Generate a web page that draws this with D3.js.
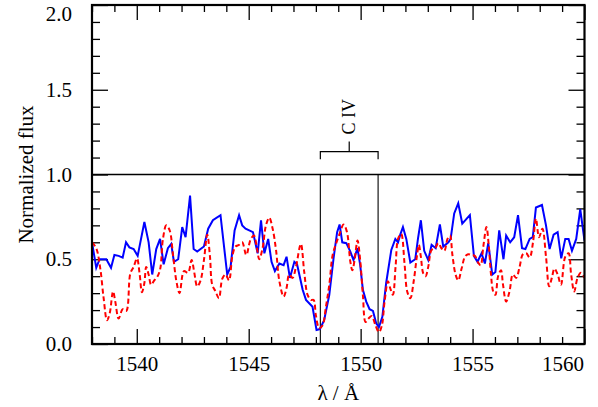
<!DOCTYPE html>
<html>
<head>
<meta charset="utf-8">
<script src="https://cdn.jsdelivr.net/npm/d3@7"></script>
</head>
<body style="margin:0; background:#fff">
<div id="chart"></div>
<script>
// spectrum 1 (solid blue)
var blueWave = [1538.00,1538.19,1538.34,1538.64,1538.85,1539.00,1539.19,1539.37,1539.52,1539.67,1539.86,1540.04,1540.34,1540.53,1540.69,1540.87,1541.04,1541.20,1541.39,1541.54,1541.66,1541.85,1542.03,1542.18,1542.38,1542.54,1542.70,1543.00,1543.19,1543.40,1543.74,1544.04,1544.19,1544.37,1544.57,1544.71,1544.86,1545.19,1545.40,1545.55,1545.70,1545.87,1546.02,1546.17,1546.37,1546.56,1546.69,1546.84,1547.04,1547.16,1547.41,1547.56,1547.85,1548.03,1548.18,1548.37,1548.60,1548.79,1548.95,1549.06,1549.18,1549.36,1549.54,1549.68,1549.86,1549.98,1550.10,1550.25,1550.40,1550.55,1550.70,1550.82,1550.97,1551.14,1551.37,1551.55,1551.67,1551.77,1551.89,1552.04,1552.22,1552.44,1552.56,1552.69,1552.84,1553.02,1553.17,1553.35,1553.54,1553.69,1553.92,1554.02,1554.18,1554.36,1554.54,1554.88,1555.06,1555.22,1555.40,1555.55,1555.70,1555.88,1556.02,1556.19,1556.38,1556.50,1556.68,1556.86,1557.03,1557.21,1557.36,1557.55,1557.69,1557.83,1558.10,1558.28,1558.44,1558.62,1558.80,1558.96,1559.14,1559.29,1559.44,1559.63,1559.81,1560.00];
var blueFlux = [0.60,0.45,0.50,0.50,0.45,0.525,0.52,0.51,0.60,0.57,0.56,0.52,0.72,0.60,0.41,0.56,0.62,0.47,0.565,0.59,0.485,0.50,0.69,0.63,0.875,0.56,0.545,0.575,0.68,0.73,0.76,0.41,0.455,0.67,0.76,0.70,0.68,0.66,0.535,0.73,0.535,0.62,0.485,0.43,0.475,0.465,0.515,0.39,0.485,0.47,0.32,0.26,0.22,0.083,0.088,0.14,0.29,0.505,0.66,0.705,0.60,0.595,0.545,0.495,0.565,0.465,0.32,0.25,0.205,0.195,0.12,0.10,0.16,0.36,0.555,0.62,0.60,0.645,0.69,0.62,0.48,0.50,0.62,0.73,0.55,0.495,0.585,0.565,0.705,0.575,0.60,0.62,0.77,0.83,0.71,0.76,0.52,0.485,0.535,0.475,0.595,0.41,0.425,0.67,0.50,0.64,0.60,0.63,0.76,0.565,0.56,0.62,0.63,0.805,0.82,0.70,0.56,0.645,0.66,0.505,0.62,0.62,0.55,0.62,0.795,0.61];

// spectrum 2 (dashed red)
var redWave = [1538.00,1538.19,1538.37,1538.52,1538.67,1538.79,1538.94,1539.04,1539.19,1539.37,1539.53,1539.71,1539.86,1540.01,1540.13,1540.23,1540.34,1540.42,1540.53,1540.64,1540.78,1540.93,1541.05,1541.17,1541.32,1541.47,1541.62,1541.77,1541.91,1542.11,1542.29,1542.45,1542.57,1542.70,1542.85,1543.00,1543.15,1543.27,1543.37,1543.52,1543.67,1543.82,1543.97,1544.12,1544.27,1544.41,1544.57,1544.71,1544.89,1545.08,1545.23,1545.37,1545.47,1545.62,1545.77,1545.92,1546.07,1546.22,1546.37,1546.56,1546.69,1546.81,1546.96,1547.11,1547.33,1547.48,1547.63,1547.78,1547.90,1548.00,1548.15,1548.30,1548.45,1548.60,1548.75,1548.91,1549.06,1549.24,1549.39,1549.54,1549.63,1549.73,1549.86,1549.98,1550.10,1550.22,1550.35,1550.50,1550.65,1550.82,1550.95,1551.07,1551.22,1551.32,1551.44,1551.56,1551.67,1551.81,1551.96,1552.08,1552.22,1552.37,1552.52,1552.60,1552.69,1552.80,1552.90,1553.02,1553.17,1553.33,1553.47,1553.61,1553.74,1553.88,1553.99,1554.10,1554.24,1554.36,1554.51,1554.66,1554.80,1554.95,1555.10,1555.25,1555.36,1555.48,1555.62,1555.72,1555.82,1555.92,1556.02,1556.14,1556.27,1556.36,1556.50,1556.65,1556.80,1556.95,1557.10,1557.25,1557.40,1557.55,1557.70,1557.83,1557.97,1558.12,1558.28,1558.42,1558.54,1558.66,1558.80,1558.95,1559.14,1559.29,1559.40,1559.54,1559.69,1559.84,1560.00];
var redFlux = [0.60,0.565,0.445,0.27,0.14,0.18,0.31,0.25,0.15,0.205,0.195,0.415,0.455,0.505,0.41,0.305,0.36,0.455,0.41,0.35,0.375,0.40,0.445,0.62,0.70,0.67,0.525,0.37,0.30,0.43,0.42,0.495,0.42,0.34,0.375,0.495,0.645,0.515,0.35,0.31,0.27,0.385,0.41,0.375,0.52,0.575,0.585,0.60,0.525,0.615,0.64,0.565,0.50,0.565,0.70,0.745,0.68,0.555,0.37,0.28,0.33,0.41,0.39,0.455,0.59,0.425,0.29,0.26,0.26,0.17,0.093,0.11,0.22,0.35,0.525,0.595,0.65,0.705,0.66,0.485,0.435,0.495,0.61,0.495,0.29,0.13,0.15,0.165,0.115,0.07,0.11,0.25,0.37,0.33,0.29,0.455,0.62,0.65,0.475,0.31,0.27,0.37,0.525,0.585,0.515,0.415,0.40,0.455,0.555,0.565,0.595,0.565,0.55,0.62,0.64,0.525,0.41,0.375,0.445,0.515,0.53,0.525,0.52,0.48,0.465,0.575,0.69,0.585,0.415,0.31,0.29,0.40,0.435,0.35,0.25,0.31,0.41,0.39,0.455,0.53,0.535,0.51,0.60,0.74,0.63,0.68,0.515,0.34,0.39,0.445,0.41,0.35,0.515,0.535,0.415,0.31,0.39,0.42,0.39];

var xMajor = [1540, 1545, 1550, 1555, 1560];
var yMajor = [0.0, 0.5, 1.0, 1.5, 2.0];
var civLines = [1548.20, 1550.78];

const WIDTH = 598, HEIGHT = 407;
const L = 92, R = 584.5, T = 5, B = 344;
const FONT = "'Liberation Serif'";
const FS = 21;

var svg = d3.select("#chart").append("svg")
    .attr("width", WIDTH)
    .attr("height", HEIGHT);

var x = d3.scaleLinear().domain([1538, 1560]).range([L, R]);
var y = d3.scaleLinear().domain([0, 2]).range([B, T]);

svg.append("clipPath").attr("id", "clip")
    .append("rect").attr("x", L).attr("y", T).attr("width", R - L).attr("height", B - T);

var xMinor = d3.range(1538, 1561, 1).filter(function(v) { return xMajor.indexOf(v) < 0; });
var yMinor = d3.range(0, 21).map(function(i) { return i / 10; }).filter(function(v) { return v % 0.5 !== 0; });

function styleAxis(g) {
    g.attr("font-family", null).attr("font-size", null);
    g.select(".domain").remove();
    g.selectAll("line").attr("stroke", "#000").attr("stroke-width", 1.3);
    g.selectAll("text")
        .attr("fill", "#000")
        .attr("font-family", FONT)
        .attr("font-size", FS);
}

// bottom axis
svg.append("g").attr("transform", "translate(0," + B + ")")
    .call(d3.axisBottom(x).tickValues(xMajor).tickSizeInner(-15).tickSizeOuter(0).tickPadding(12).tickFormat(d3.format("d")))
    .call(styleAxis)
    .call(function(g) {
        g.selectAll(".tick").filter(function(d) { return d === 1560; })
            .select("text").attr("text-anchor", "end").attr("x", -1);
    });
svg.append("g").attr("transform", "translate(0," + B + ")")
    .call(d3.axisBottom(x).tickValues(xMinor).tickSizeInner(-7).tickSizeOuter(0).tickFormat(""))
    .call(styleAxis);
// top axis
svg.append("g").attr("transform", "translate(0," + T + ")")
    .call(d3.axisTop(x).tickValues(xMajor).tickSizeInner(-15).tickSizeOuter(0).tickFormat(""))
    .call(styleAxis);
svg.append("g").attr("transform", "translate(0," + T + ")")
    .call(d3.axisTop(x).tickValues(xMinor).tickSizeInner(-7).tickSizeOuter(0).tickFormat(""))
    .call(styleAxis);
// left axis
svg.append("g").attr("transform", "translate(" + L + ",0)")
    .call(d3.axisLeft(y).tickValues(yMajor).tickSizeInner(-16).tickSizeOuter(0).tickPadding(20).tickFormat(d3.format(".1f")))
    .call(styleAxis)
    .call(function(g) {
        g.selectAll(".tick").filter(function(d) { return d === 2.0; })
            .select("text").attr("y", 9);
    });
svg.append("g").attr("transform", "translate(" + L + ",0)")
    .call(d3.axisLeft(y).tickValues(yMinor).tickSizeInner(-8).tickSizeOuter(0).tickFormat(""))
    .call(styleAxis);
// right axis
svg.append("g").attr("transform", "translate(" + R + ",0)")
    .call(d3.axisRight(y).tickValues(yMajor).tickSizeInner(-16).tickSizeOuter(0).tickFormat(""))
    .call(styleAxis);
svg.append("g").attr("transform", "translate(" + R + ",0)")
    .call(d3.axisRight(y).tickValues(yMinor).tickSizeInner(-8).tickSizeOuter(0).tickFormat(""))
    .call(styleAxis);

// continuum level
svg.append("line")
    .attr("x1", L).attr("x2", R).attr("y1", y(1)).attr("y2", y(1))
    .attr("stroke", "#000").attr("stroke-width", 1.5);

// C IV doublet markers
svg.selectAll(".civ").data(civLines).enter().append("line")
    .attr("x1", function(d) { return x(d); }).attr("x2", function(d) { return x(d); })
    .attr("y1", y(1)).attr("y2", B)
    .attr("stroke", "#000").attr("stroke-width", 1.1);

var brY = y(1.135), brLow = y(1.09), brTop = y(1.195);
var mid = (civLines[0] + civLines[1]) / 2;
svg.append("path")
    .attr("d", "M" + x(civLines[0]) + "," + brLow + "V" + brY + "H" + x(civLines[1]) + "V" + brLow +
        "M" + x(mid) + "," + brY + "V" + brTop)
    .attr("fill", "none").attr("stroke", "#000").attr("stroke-width", 1.2);
svg.append("text")
    .attr("transform", "translate(" + (x(mid) + 6) + "," + y(1.34) + ") rotate(-90)")
    .attr("text-anchor", "middle")
    .attr("font-family", FONT)
    .attr("font-size", 18)
    .text("C IV");

// spectra
var blueData = blueWave.map(function(w, i) { return [w, blueFlux[i]]; });
var redData = redWave.map(function(w, i) { return [w, redFlux[i]]; });
var lineLin = d3.line().x(function(d) { return x(d[0]); }).y(function(d) { return y(d[1]); });
var lineSmooth = d3.line().curve(d3.curveCatmullRom).x(function(d) { return x(d[0]); }).y(function(d) { return y(d[1]); });

var plot = svg.append("g").attr("clip-path", "url(#clip)");
plot.append("path").datum(blueData)
    .attr("d", lineLin)
    .attr("fill", "none").attr("stroke", "#0000ff").attr("stroke-width", 2);
plot.append("path").datum(redData)
    .attr("d", lineSmooth)
    .attr("fill", "none").attr("stroke", "#ff0000").attr("stroke-width", 2)
    .attr("stroke-dasharray", "5,3");

// frame
svg.append("rect")
    .attr("x", L).attr("y", T).attr("width", R - L).attr("height", B - T)
    .attr("fill", "none").attr("stroke", "#000").attr("stroke-width", 2.2);

// axis titles
svg.append("text")
    .attr("x", (L + R) / 2).attr("y", 400)
    .attr("text-anchor", "middle")
    .attr("font-family", FONT)
    .attr("font-size", FS)
    .text("λ / Å");
svg.append("text")
    .attr("transform", "translate(33," + ((T + B) / 2) + ") rotate(-90)")
    .attr("text-anchor", "middle")
    .attr("font-family", FONT)
    .attr("font-size", FS)
    .text("Normalized flux");
</script>
</body>
</html>
